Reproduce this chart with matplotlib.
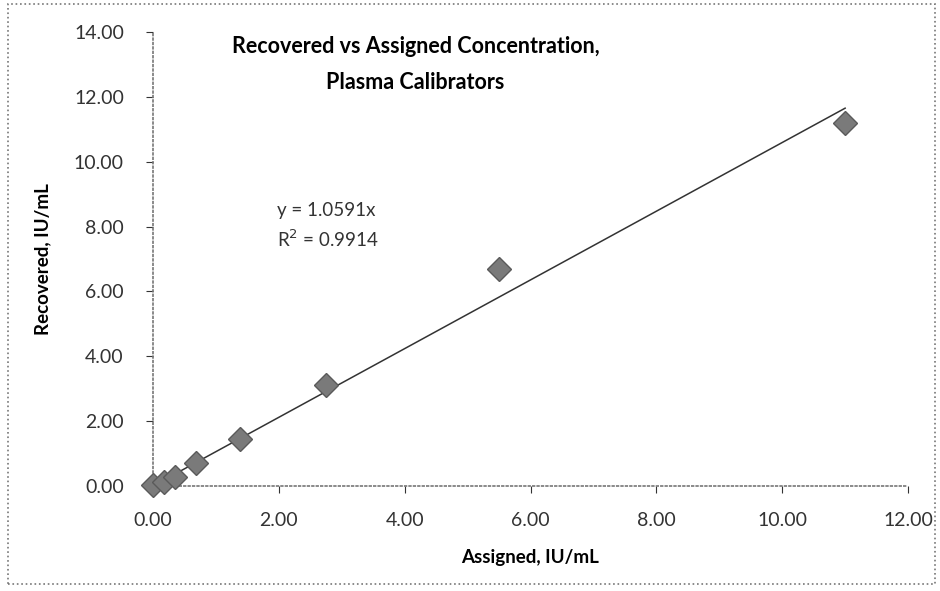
import numpy as np
import matplotlib.pyplot as plt
from matplotlib.patches import Rectangle

plt.rcParams['font.family'] = ['Lato', 'DejaVu Sans']

# calibrator data
assigned = [0.0, 0.171875, 0.34375, 0.6875, 1.375, 2.75, 5.5, 11.0]
recovered = [0.03, 0.13, 0.28, 0.72, 1.45, 3.10, 6.70, 11.20]
slope = 1.0591
xticks = [0, 2, 4, 6, 8, 10, 12]
yticks = [0, 2, 4, 6, 8, 10, 12, 14]

fig = plt.figure(figsize=(9.4, 5.91), dpi=100)
ax = fig.add_axes([0.1628, 0.1777, 0.8032, 0.7682])

# trend line through origin
fit_x = np.array([0, max(assigned)])
ax.plot(fit_x, slope * fit_x, color='#333333', lw=1.1, zorder=2)
ax.plot(assigned, recovered, 'D', color='#7a7a7a', mec='#5a5a5a', ms=12, zorder=3, clip_on=False)

ax.set_xlim(0, 12)
ax.set_ylim(0, 14)
ax.set_xticks(xticks)
ax.set_yticks(yticks)
ax.set_xticklabels(['%.2f' % v for v in xticks])
ax.set_yticklabels(['%.2f' % v for v in yticks])
ax.tick_params(labelsize=14, colors='#333333', length=5, width=0.8)
ax.tick_params(axis='y', pad=16)
ax.tick_params(axis='x', pad=14)
for s in ['top', 'right']:
    ax.spines[s].set_visible(False)
for s in ['left', 'bottom']:
    ax.spines[s].set_color('#777777')
    ax.spines[s].set_linestyle(':')
    ax.spines[s].set_linewidth(1.2)

ax.set_xlabel('Assigned, IU/mL', fontsize=13.5, fontweight='bold', labelpad=14)
ax.set_ylabel('Recovered, IU/mL', fontsize=13.5, fontweight='bold', labelpad=16)

ax.text(4.17, 13.0, 'Recovered vs Assigned Concentration,\nPlasma Calibrators',
        ha='center', va='center', fontsize=15.5, fontweight='bold', linespacing=1.9)
ax.text(1.97, 8.5, 'y = 1.0591x', fontsize=13.5, color='#333333', va='center')
ax.text(1.97, 7.6, 'R$^2$ = 0.9914', fontsize=13.5, color='#333333', va='center')

fig.add_artist(Rectangle((0.008, 0.012), 0.987, 0.982, transform=fig.transFigure,
                         fill=False, ec='#777777', ls=':', lw=1.2))

fig.savefig('out.png', dpi=100)
